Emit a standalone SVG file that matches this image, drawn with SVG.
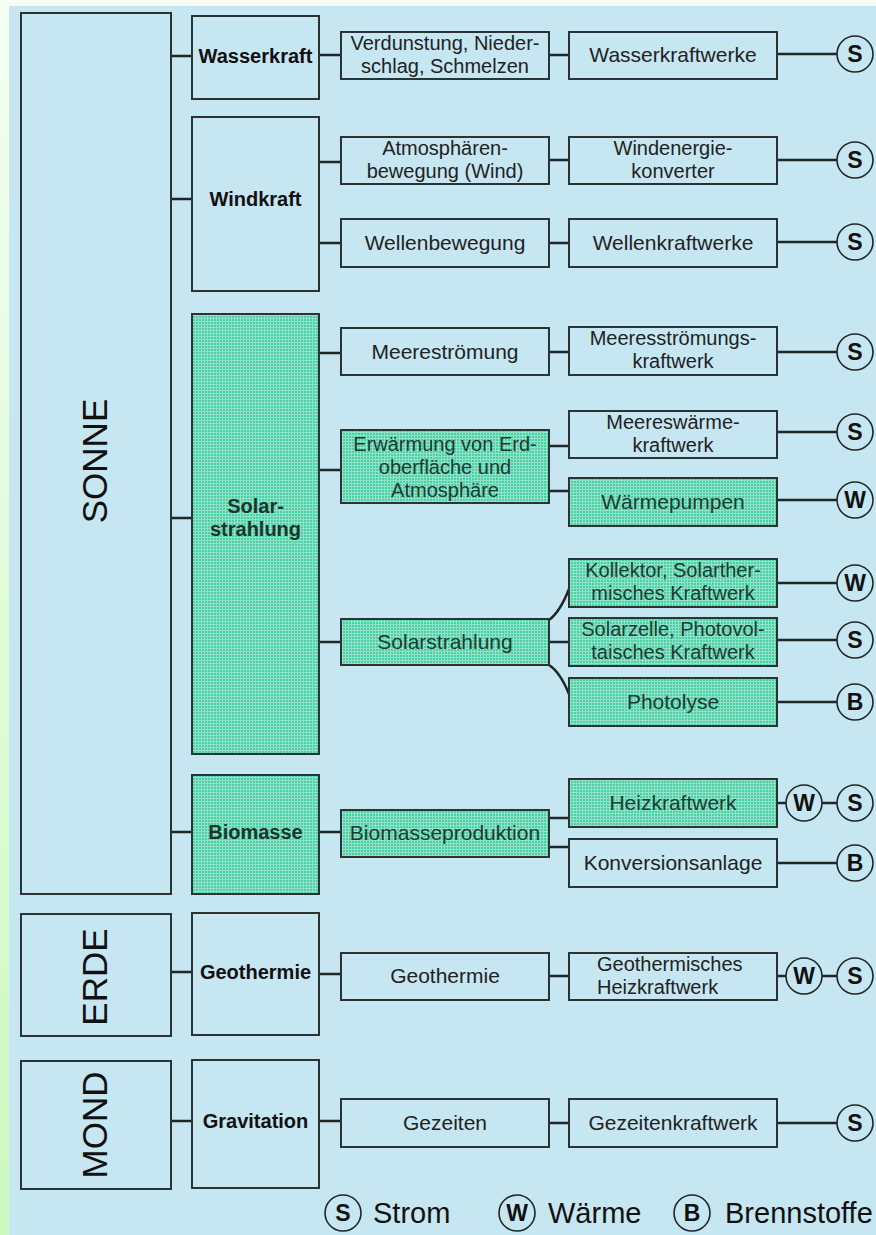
<svg xmlns="http://www.w3.org/2000/svg" width="876" height="1235" viewBox="0 0 876 1235">
<defs>
<linearGradient id="strip" x1="0" y1="0" x2="0" y2="1">
<stop offset="0" stop-color="#f4fff2"/>
<stop offset="1" stop-color="#cdf8bf"/>
</linearGradient>
<pattern id="dots" width="3" height="3" patternUnits="userSpaceOnUse">
<rect width="3" height="3" fill="#8fe3c8"/>
<rect x="1" y="1" width="2" height="2" fill="#4ccfa5"/>
</pattern>
<style>
.b{fill:none;stroke:#2b3333;stroke-width:2}
.g{fill:url(#dots);stroke:#2b3333;stroke-width:2}
.c{fill:none;stroke:#1e2626;stroke-width:2.5}
.ci{fill:#c6e6f2;stroke:#1e2626;stroke-width:1.6}
.t{font-family:"Liberation Sans",Arial,sans-serif;font-size:21px;fill:#222;text-anchor:middle}
.tg{font-family:"Liberation Sans",Arial,sans-serif;font-size:21px;fill:#1f3a31;text-anchor:middle}
.m{font-size:20px}
.bl{font-family:"Liberation Sans",Arial,sans-serif;font-size:20px;font-weight:bold;fill:#111;text-anchor:middle}
.blg{font-family:"Liberation Sans",Arial,sans-serif;font-size:20px;font-weight:bold;fill:#1b352c;text-anchor:middle}
.big{font-family:"Liberation Sans",Arial,sans-serif;font-size:35px;fill:#111;text-anchor:middle}
.cl{font-family:"Liberation Sans",Arial,sans-serif;font-size:23px;font-weight:bold;fill:#111;text-anchor:middle}
.lg{font-family:"Liberation Sans",Arial,sans-serif;font-size:29px;fill:#111}
</style>
</defs>
<rect width="876" height="1235" fill="#c6e6f2"/>
<rect width="876" height="6" fill="#f6fdf6"/>
<rect width="9" height="1235" fill="url(#strip)"/>

<g id="connectors">
<path class="c" d="M171 56H192M171 199H192M171 518H192M171 832H192M171 972H192M171 1121H192"/>
<path class="c" d="M319 55H341M319 162H341M319 243H341M319 353H341M319 470H341M319 642H341M319 832H341M319 974H341M319 1121H341"/>
<path class="c" d="M549 55H569M549 160H569M549 243H569M549 352H569M549 446H569M549 491H569M549 642H569M549 818H569M549 847H569M549 976H569M549 1123H569"/>
<path class="c" d="M549 620Q560 612 569 589M549 665Q560 672 569 694"/>
<path class="c" d="M777 54H837M777 160H837M777 242H837M777 352H837M777 432H837M777 500H837M777 583H837M777 640H837M777 702H837M777 863H837M777 1123H837"/>
<path class="c" d="M777 803H786M822 803H837M777 976H786M822 976H837"/>
</g>

<g id="sonne"><rect class="b" x="21" y="13" width="150" height="881"/><text class="big" transform="translate(107 461) rotate(-90)">SONNE</text></g>
<g id="erde"><rect class="b" x="21" y="914" width="150" height="122"/><text class="big" transform="translate(107 977) rotate(-90)">ERDE</text></g>
<g id="mond"><rect class="b" x="21" y="1061" width="150" height="128"/><text class="big" transform="translate(107 1125) rotate(-90)">MOND</text></g>

<g id="wasserkraft"><rect class="b" x="192" y="16" width="127" height="83"/><text class="bl" x="255.5" y="63">Wasserkraft</text></g>
<g id="windkraft"><rect class="b" x="192" y="117" width="127" height="174"/><text class="bl" x="255.5" y="206">Windkraft</text></g>
<g id="solar"><rect class="g" x="192" y="314" width="127" height="440"/><text class="blg" x="255.5" y="513">Solar-</text><text class="blg" x="255.5" y="536">strahlung</text></g>
<g id="biomasse"><rect class="g" x="192" y="775" width="127" height="119"/><text class="blg" x="255.5" y="839">Biomasse</text></g>
<g id="geothermie-q"><rect class="b" x="192" y="913" width="127" height="122"/><text class="bl" x="255.5" y="979">Geothermie</text></g>
<g id="gravitation"><rect class="b" x="192" y="1060" width="127" height="128"/><text class="bl" x="255.5" y="1128">Gravitation</text></g>

<g id="verdunstung"><rect class="b" x="341" y="32" width="208" height="47"/><text class="t m" x="445" y="50">Verdunstung, Nieder-</text><text class="t m" x="445" y="73">schlag, Schmelzen</text></g>
<g id="atmosphaere"><rect class="b" x="341" y="137" width="208" height="47"/><text class="t m" x="445" y="154.5">Atmosphären-</text><text class="t m" x="445" y="177.5">bewegung (Wind)</text></g>
<g id="wellenbewegung"><rect class="b" x="341" y="219" width="208" height="48"/><text class="t" x="445" y="250">Wellenbewegung</text></g>
<g id="meerestroemung"><rect class="b" x="341" y="328" width="208" height="47"/><text class="t" x="445" y="359">Meereströmung</text></g>
<g id="erwaermung"><rect class="g" x="341" y="430" width="208" height="73"/><text class="tg m" x="445" y="450.5">Erwärmung von Erd-</text><text class="tg m" x="445" y="473.5">oberfläche und</text><text class="tg m" x="445" y="496.5">Atmosphäre</text></g>
<g id="solarstrahlung"><rect class="g" x="341" y="619" width="208" height="46"/><text class="tg" x="445" y="649">Solarstrahlung</text></g>
<g id="biomasseproduktion"><rect class="g" x="341" y="810" width="208" height="47"/><text class="tg" x="445" y="840">Biomasseproduktion</text></g>
<g id="geothermie"><rect class="b" x="341" y="953" width="208" height="47"/><text class="t" x="445" y="983">Geothermie</text></g>
<g id="gezeiten"><rect class="b" x="341" y="1099" width="208" height="48"/><text class="t" x="445" y="1130">Gezeiten</text></g>

<g id="wasserkraftwerke"><rect class="b" x="569" y="32" width="208" height="47"/><text class="t" x="673" y="62">Wasserkraftwerke</text></g>
<g id="windenergie"><rect class="b" x="569" y="137" width="208" height="47"/><text class="t m" x="673" y="154.5">Windenergie-</text><text class="t m" x="673" y="177.5">konverter</text></g>
<g id="wellenkraftwerke"><rect class="b" x="569" y="219" width="208" height="48"/><text class="t" x="673" y="250">Wellenkraftwerke</text></g>
<g id="meeresstroemungskraftwerk"><rect class="b" x="569" y="327" width="208" height="48"/><text class="t m" x="673" y="345">Meeresströmungs-</text><text class="t m" x="673" y="368">kraftwerk</text></g>
<g id="meereswaermekraftwerk"><rect class="b" x="569" y="411" width="208" height="47"/><text class="t m" x="673" y="428.5">Meereswärme-</text><text class="t m" x="673" y="451.5">kraftwerk</text></g>
<g id="waermepumpen"><rect class="g" x="569" y="478" width="208" height="48"/><text class="tg" x="673" y="509">Wärmepumpen</text></g>
<g id="kollektor"><rect class="g" x="569" y="559" width="208" height="48"/><text class="tg m" x="673" y="577">Kollektor, Solarther-</text><text class="tg m" x="673" y="600">misches Kraftwerk</text></g>
<g id="solarzelle"><rect class="g" x="569" y="618" width="208" height="48"/><text class="tg m" x="673" y="636">Solarzelle, Photovol-</text><text class="tg m" x="673" y="659">taisches Kraftwerk</text></g>
<g id="photolyse"><rect class="g" x="569" y="678" width="208" height="48"/><text class="tg" x="673" y="709">Photolyse</text></g>
<g id="heizkraftwerk"><rect class="g" x="569" y="779" width="208" height="48"/><text class="tg" x="673" y="810">Heizkraftwerk</text></g>
<g id="konversionsanlage"><rect class="b" x="569" y="839" width="208" height="48"/><text class="t" x="673" y="870">Konversionsanlage</text></g>
<g id="geothermisches"><rect class="b" x="569" y="953" width="208" height="47"/><text class="t m" x="597" y="970.5" style="text-anchor:start">Geothermisches</text><text class="t m" x="597" y="993.5" style="text-anchor:start">Heizkraftwerk</text></g>
<g id="gezeitenkraftwerk"><rect class="b" x="569" y="1099" width="208" height="48"/><text class="t" x="673" y="1130">Gezeitenkraftwerk</text></g>

<g id="outputs">
<g><circle class="ci" cx="855" cy="54" r="18"/><text class="cl" x="855" y="62">S</text></g>
<g><circle class="ci" cx="855" cy="160" r="18"/><text class="cl" x="855" y="168">S</text></g>
<g><circle class="ci" cx="855" cy="242" r="18"/><text class="cl" x="855" y="250">S</text></g>
<g><circle class="ci" cx="855" cy="352" r="18"/><text class="cl" x="855" y="360">S</text></g>
<g><circle class="ci" cx="855" cy="432" r="18"/><text class="cl" x="855" y="440">S</text></g>
<g><circle class="ci" cx="855" cy="500" r="18"/><text class="cl" x="855" y="508">W</text></g>
<g><circle class="ci" cx="855" cy="583" r="18"/><text class="cl" x="855" y="591">W</text></g>
<g><circle class="ci" cx="855" cy="640" r="18"/><text class="cl" x="855" y="648">S</text></g>
<g><circle class="ci" cx="855" cy="702" r="18"/><text class="cl" x="855" y="710">B</text></g>
<g><circle class="ci" cx="804" cy="803" r="18"/><text class="cl" x="804" y="811">W</text></g>
<g><circle class="ci" cx="855" cy="803" r="18"/><text class="cl" x="855" y="811">S</text></g>
<g><circle class="ci" cx="855" cy="863" r="18"/><text class="cl" x="855" y="871">B</text></g>
<g><circle class="ci" cx="804" cy="976" r="18"/><text class="cl" x="804" y="984">W</text></g>
<g><circle class="ci" cx="855" cy="976" r="18"/><text class="cl" x="855" y="984">S</text></g>
<g><circle class="ci" cx="855" cy="1123" r="18"/><text class="cl" x="855" y="1131">S</text></g>
</g>

<g id="legend">
<circle class="ci" cx="343" cy="1213" r="18"/><text class="cl" x="343" y="1221">S</text><text class="lg" x="373" y="1223">Strom</text>
<circle class="ci" cx="517" cy="1213" r="18"/><text class="cl" x="517" y="1221">W</text><text class="lg" x="548" y="1223">Wärme</text>
<circle class="ci" cx="692" cy="1213" r="18"/><text class="cl" x="692" y="1221">B</text><text class="lg" x="725" y="1223">Brennstoffe</text>
</g>
</svg>
